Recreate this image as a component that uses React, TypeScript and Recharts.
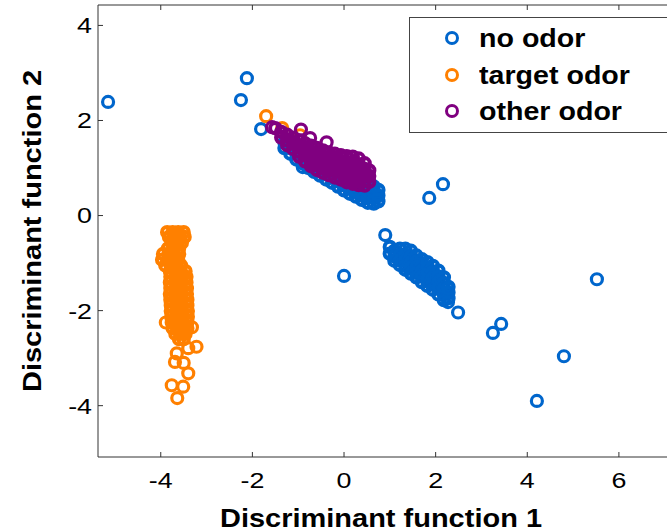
import React from 'react';
import { ScatterChart, Scatter, XAxis, YAxis, ReferenceLine, Legend, Label } from 'recharts';

// axes
const xTicks = [-4, -2, 0, 2, 4, 6];
const yTicks = [-4, -2, 0, 2, 4];
const xDomain: [number, number] = [-5.37, 7.05];
const yDomain: [number, number] = [-5.08, 4.43];

const seriesNames = ['no odor', 'target odor', 'other odor'];
const seriesColors = ['#0066CC', '#FF8000', '#800080'];

// no odor: scattered singles
const noOdorSingles: [number, number][] = [
    [-5.15, 2.39], [-2.25, 2.43], [-2.12, 2.89], [-1.81, 1.82], [-0.9, 1.02],
    [1.86, 0.37], [2.16, 0.66], [0.9, -0.41], [0.0, -1.27], [2.27, -1.53],
    [2.27, -1.82], [2.49, -2.04], [3.25, -2.47], [3.43, -2.28], [4.21, -3.9],
    [4.8, -2.96], [5.52, -1.34],
];

// no odor: band under the other odor group
const noOdorUpper: [number, number][] = [
    [-1.3, 1.42], [-1.3, 1.54],
    [-1.17, 1.3], [-1.17, 1.42], [-1.17, 1.54],
    [-1.04, 1.18], [-1.04, 1.3], [-1.04, 1.42],
    [-0.91, 1.1], [-0.91, 1.22], [-0.91, 1.34],
    [-0.78, 1.0], [-0.78, 1.12], [-0.78, 1.24],
    [-0.65, 0.92], [-0.65, 1.04], [-0.65, 1.16],
    [-0.52, 0.84], [-0.52, 0.96], [-0.52, 1.08],
    [-0.39, 0.76], [-0.39, 0.88], [-0.39, 1.0],
    [-0.26, 0.69], [-0.26, 0.81], [-0.26, 0.93],
    [-0.13, 0.61], [-0.13, 0.73], [-0.13, 0.85],
    [0.0, 0.53], [0.0, 0.65], [0.0, 0.77],
    [0.13, 0.46], [0.13, 0.58], [0.13, 0.7],
    [0.26, 0.4], [0.26, 0.52], [0.26, 0.64],
    [0.39, 0.33], [0.39, 0.45], [0.39, 0.57], [0.39, 0.69],
    [0.52, 0.27], [0.52, 0.39], [0.52, 0.51], [0.52, 0.63], [0.52, 0.75],
    [0.65, 0.25], [0.65, 0.37], [0.65, 0.49], [0.65, 0.61],
    [0.75, 0.3], [0.75, 0.42], [0.75, 0.54],
];

// no odor: lower right group
const noOdorLower: [number, number][] = [
    [1.0, -0.66], [1.0, -0.8],
    [1.1, -0.74], [1.1, -0.86], [1.1, -0.95],
    [1.22, -0.7], [1.22, -0.82], [1.22, -0.94], [1.22, -1.04],
    [1.34, -0.7], [1.34, -0.82], [1.34, -0.94], [1.34, -1.06], [1.34, -1.14],
    [1.46, -0.74], [1.46, -0.86], [1.46, -0.98], [1.46, -1.1], [1.46, -1.22],
    [1.58, -0.84], [1.58, -0.96], [1.58, -1.08], [1.58, -1.2], [1.58, -1.3],
    [1.7, -0.92], [1.7, -1.04], [1.7, -1.16], [1.7, -1.28], [1.7, -1.4],
    [1.82, -0.98], [1.82, -1.1], [1.82, -1.22], [1.82, -1.34], [1.82, -1.48],
    [1.94, -1.06], [1.94, -1.18], [1.94, -1.3], [1.94, -1.42], [1.94, -1.56],
    [2.06, -1.16], [2.06, -1.28], [2.06, -1.4], [2.06, -1.52], [2.06, -1.66],
    [2.18, -1.3], [2.18, -1.42], [2.18, -1.54], [2.18, -1.66], [2.18, -1.78],
    [2.28, -1.5], [2.28, -1.62], [2.28, -1.74],
];

// target odor
const targetMain: [number, number][] = [
    [-3.86, -0.35], [-3.74, -0.35], [-3.62, -0.35], [-3.5, -0.35],
    [-3.82, -0.45], [-3.7, -0.45], [-3.58, -0.45], [-3.48, -0.45],
    [-3.76, -0.57], [-3.64, -0.57], [-3.54, -0.57],
    [-3.84, -0.69], [-3.72, -0.69], [-3.6, -0.69],
    [-3.95, -0.81], [-3.83, -0.81], [-3.71, -0.81], [-3.6, -0.81],
    [-3.97, -0.93], [-3.85, -0.93], [-3.73, -0.93], [-3.62, -0.93],
    [-3.9, -1.05], [-3.78, -1.05], [-3.66, -1.05], [-3.56, -1.05],
    [-3.8, -1.17], [-3.68, -1.17], [-3.56, -1.17], [-3.46, -1.17],
    [-3.79, -1.29], [-3.67, -1.29], [-3.55, -1.29], [-3.44, -1.29],
    [-3.8, -1.41], [-3.68, -1.41], [-3.56, -1.41], [-3.44, -1.41],
    [-3.79, -1.53], [-3.67, -1.53], [-3.55, -1.53], [-3.43, -1.53],
    [-3.8, -1.65], [-3.68, -1.65], [-3.55, -1.65], [-3.43, -1.65],
    [-3.79, -1.77], [-3.67, -1.77], [-3.54, -1.77], [-3.42, -1.77],
    [-3.78, -1.89], [-3.66, -1.89], [-3.54, -1.89], [-3.42, -1.89],
    [-3.78, -2.01], [-3.66, -2.01], [-3.53, -2.01], [-3.41, -2.01],
    [-3.77, -2.13], [-3.65, -2.13], [-3.53, -2.13], [-3.41, -2.13],
    [-3.76, -2.25], [-3.64, -2.25], [-3.52, -2.25], [-3.42, -2.25],
    [-3.74, -2.37], [-3.62, -2.37], [-3.5, -2.37], [-3.42, -2.37],
    [-3.68, -2.49], [-3.56, -2.49], [-3.46, -2.49],
    [-3.6, -2.6], [-3.5, -2.6],
];

const targetSingles: [number, number][] = [
    [-3.89, -2.25], [-3.32, -2.35], [-3.22, -2.76], [-3.4, -2.79], [-3.65, -2.9],
    [-3.69, -3.08], [-3.5, -3.1], [-3.4, -3.32], [-3.76, -3.57], [-3.51, -3.6],
    [-3.64, -3.84], [-1.7, 2.09], [-1.35, 1.84], [-0.96, 1.69],
];

// other odor
const otherMain: [number, number][] = [
    [-1.5, 1.84],
    [-1.37, 1.76], [-1.37, 1.64],
    [-1.24, 1.7], [-1.24, 1.58], [-1.24, 1.48],
    [-1.11, 1.64], [-1.11, 1.52], [-1.11, 1.4],
    [-0.98, 1.58], [-0.98, 1.46], [-0.98, 1.34], [-0.98, 1.24],
    [-0.85, 1.52], [-0.85, 1.4], [-0.85, 1.28], [-0.85, 1.14],
    [-0.72, 1.47], [-0.72, 1.35], [-0.72, 1.23], [-0.72, 1.11], [-0.72, 1.04],
    [-0.59, 1.42], [-0.59, 1.3], [-0.59, 1.18], [-0.59, 1.06], [-0.59, 0.96],
    [-0.46, 1.37], [-0.46, 1.25], [-0.46, 1.13], [-0.46, 1.01], [-0.46, 0.9],
    [-0.33, 1.33], [-0.33, 1.21], [-0.33, 1.09], [-0.33, 0.97], [-0.33, 0.85],
    [-0.2, 1.3], [-0.2, 1.18], [-0.2, 1.06], [-0.2, 0.94], [-0.2, 0.8],
    [-0.07, 1.27], [-0.07, 1.15], [-0.07, 1.03], [-0.07, 0.91], [-0.07, 0.76],
    [0.06, 1.25], [0.06, 1.13], [0.06, 1.01], [0.06, 0.89], [0.06, 0.78], [0.06, 0.7],
    [0.19, 1.24], [0.19, 1.12], [0.19, 1.0], [0.19, 0.88], [0.19, 0.76], [0.19, 0.67],
    [0.32, 1.2], [0.32, 1.08], [0.32, 0.96], [0.32, 0.84], [0.32, 0.72], [0.32, 0.64],
    [0.45, 1.1], [0.45, 0.98], [0.45, 0.86], [0.45, 0.74], [0.45, 0.63],
    [0.55, 0.95], [0.55, 0.83], [0.55, 0.71],
];

const otherSingles: [number, number][] = [
    [-1.57, 1.86], [-0.94, 1.81], [-0.74, 1.63], [-0.38, 1.54],
];

const toPoints = (arr: [number, number][]) => arr.map(([x, y]) => ({ x, y }));

const FONT = '"Liberation Sans", Arial, sans-serif';
const AXIS = '#333333';

// open circle markers; the packed groups use a slightly heavier ring so they read as solid
const ring = (color: string, r: number, w: number) => (props: any) => (
    <circle cx={props.cx} cy={props.cy} r={r} fill="none" stroke={color} strokeWidth={w} />
);

const XTick = (props: any) => {
    const { x, y, payload } = props;
    return (
        <g>
            <line x1={x} y1={y} x2={x} y2={y - 5} stroke={AXIS} />
            <text
                transform={`translate(${x},${y + 31}) scale(1.22,1)`}
                textAnchor="middle"
                fontSize={22}
                fontFamily={FONT}
                fill="#000"
            >
                {payload.value}
            </text>
        </g>
    );
};

const YTick = (props: any) => {
    const { x, y, payload } = props;
    return (
        <g>
            <line x1={x} y1={y} x2={x + 5} y2={y} stroke={AXIS} />
            <text
                transform={`translate(${x - 6},${y}) scale(1.22,1)`}
                textAnchor="end"
                dy="0.36em"
                fontSize={22}
                fontFamily={FONT}
                fill="#000"
            >
                {payload.value}
            </text>
        </g>
    );
};

const XTitle = (props: any) => {
    const vb = props.viewBox;
    const cx = vb.x + vb.width / 2 - 1.5;
    return (
        <text x={cx} y={vb.y + 70} textAnchor="middle" fontSize={26} fontWeight="bold" fontFamily={FONT}
            textLength={322} lengthAdjust="spacingAndGlyphs" fill="#000">
            Discriminant function 1
        </text>
    );
};

const YTitle = (props: any) => {
    const vb = props.viewBox;
    const cx = vb.x + 41;
    const cy = vb.y + vb.height / 2;
    return (
        <text x={cx} y={cy} transform={`rotate(-90, ${cx}, ${cy})`} textAnchor="middle" fontSize={26}
            fontWeight="bold" fontFamily={FONT} textLength={322} lengthAdjust="spacingAndGlyphs" fill="#000">
            Discriminant function 2
        </text>
    );
};

const LegendBox = () => (
    <div
        style={{
            position: 'relative',
            width: 260,
            height: 114,
            border: '1px solid #444',
            background: '#fff',
            fontFamily: FONT,
        }}
    >
        {seriesNames.map((name, i) => (
            <div key={name} style={{ position: 'absolute', left: 0, top: 20 + i * 36.5 - 13, height: 26, width: 258 }}>
                <svg width={18} height={18} style={{ position: 'absolute', left: 33, top: 4 }}>
                    <circle cx={9} cy={9} r={5.5} fill="none" stroke={seriesColors[i]} strokeWidth={3} />
                </svg>
                <span
                    style={{
                        position: 'absolute',
                        left: 69,
                        top: 0,
                        fontSize: 26,
                        lineHeight: '26px',
                        fontWeight: 'bold',
                        whiteSpace: 'nowrap',
                        transform: 'scaleX(1.1)',
                        transformOrigin: 'left center',
                        color: '#000',
                    }}
                >
                    {name}
                </span>
            </div>
        ))}
    </div>
);

export default function App() {
    return (
        <div style={{ position: 'absolute', left: 0, top: 0, width: 667, height: 532, overflow: 'hidden', background: '#fff' }}>
            <ScatterChart width={667} height={532} margin={{ top: 5, right: 0, bottom: 0, left: 0 }}>
                <XAxis
                    type="number"
                    dataKey="x"
                    domain={xDomain}
                    ticks={xTicks}
                    interval={0}
                    height={75}
                    axisLine={{ stroke: AXIS }}
                    tickLine={false}
                    tickSize={0}
                    tickMargin={0}
                    tick={<XTick />}
                    allowDataOverflow
                >
                    <Label content={<XTitle />} />
                </XAxis>
                <YAxis
                    type="number"
                    dataKey="y"
                    domain={yDomain}
                    ticks={yTicks}
                    interval={0}
                    width={98}
                    axisLine={{ stroke: AXIS }}
                    tickLine={false}
                    tickSize={0}
                    tickMargin={0}
                    tick={<YTick />}
                    allowDataOverflow
                >
                    <Label content={<YTitle />} />
                </YAxis>
                <ReferenceLine y={yDomain[1]} stroke={AXIS} />
                {xTicks.map((t) => (
                    <ReferenceLine
                        key={t}
                        segment={[{ x: t, y: yDomain[1] }, { x: t, y: yDomain[1] - 0.105 }]}
                        stroke={AXIS}
                    />
                ))}
                <Scatter name={seriesNames[0]} data={toPoints([...noOdorUpper, ...noOdorLower])}
                    shape={ring(seriesColors[0], 5.2, 4)} legendType="none" isAnimationActive={false} />
                <Scatter name={seriesNames[0]} data={toPoints(noOdorSingles)}
                    shape={ring(seriesColors[0], 5.5, 3.2)} isAnimationActive={false} />
                <Scatter name={seriesNames[1]} data={toPoints(targetMain)}
                    shape={ring(seriesColors[1], 5.2, 4)} legendType="none" isAnimationActive={false} />
                <Scatter name={seriesNames[1]} data={toPoints(targetSingles)}
                    shape={ring(seriesColors[1], 5.5, 3.2)} isAnimationActive={false} />
                <Scatter name={seriesNames[2]} data={toPoints(otherMain)}
                    shape={ring(seriesColors[2], 5.2, 4)} legendType="none" isAnimationActive={false} />
                <Scatter name={seriesNames[2]} data={toPoints(otherSingles)}
                    shape={ring(seriesColors[2], 5.5, 3.2)} isAnimationActive={false} />
                <Legend
                    layout="horizontal"
                    verticalAlign="middle"
                    align="center"
                    wrapperStyle={{ left: 409, top: 17, width: 262, height: 116 }}
                    content={() => <LegendBox />}
                />
            </ScatterChart>
        </div>
    );
}
